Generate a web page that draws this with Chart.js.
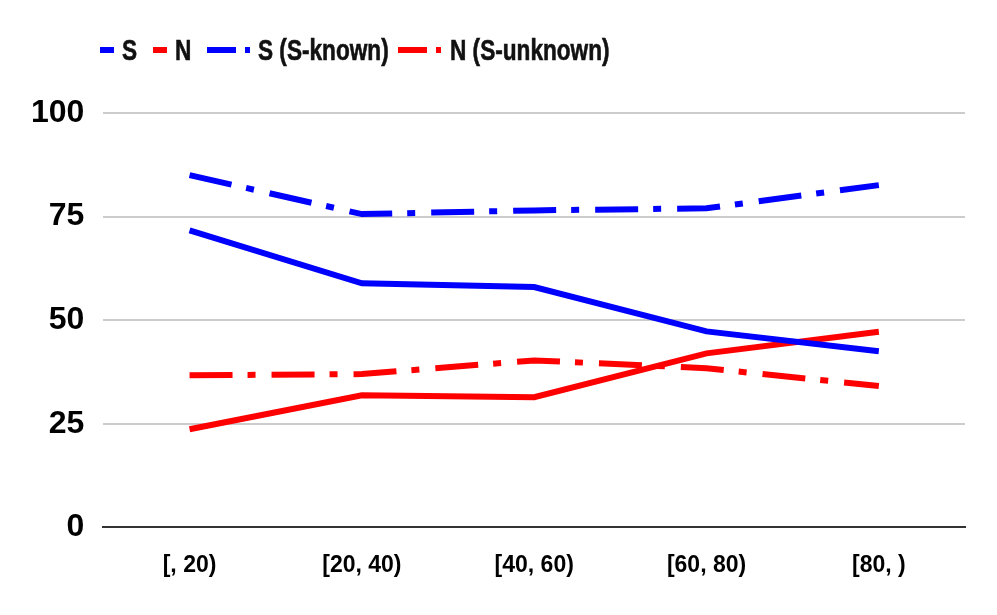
<!DOCTYPE html>
<html>
<head>
<meta charset="utf-8">
<script src="https://cdn.jsdelivr.net/npm/chart.js@4.4.1/dist/chart.umd.min.js"></script>
<style>
  html, body { margin: 0; padding: 0; background: #fff; }
  #wrap { position: relative; width: 997px; height: 615px; }
  #legend { position: absolute; top: 0; left: 0; width: 997px; height: 90px;
            font-family: "Liberation Sans", Arial, sans-serif; font-weight: 700;
            font-size: 29px; color: #111; }
  .mk { position: absolute; top: 47px; height: 6px; }
  .txt { position: absolute; top: 33px; line-height: 34px; white-space: nowrap;
         -webkit-text-stroke: 0.6px #111;
         transform: scaleX(0.78); transform-origin: 0 50%; }
</style>
</head>
<body>
<div id="wrap">
  <div id="legend"></div>
  <canvas id="c" width="997" height="615"></canvas>
</div>
<script>
// data
var categories = ['[, 20)', '[20, 40)', '[40, 60)', '[60, 80)', '[80, )'];
var sValues = [71.7, 58.9, 58.0, 47.3, 42.5];
var nValues = [23.7, 31.9, 31.4, 42.0, 47.2];
var sKnownValues = [85.0, 75.6, 76.5, 77.0, 82.6];
var nUnknownValues = [36.7, 37.0, 40.3, 38.4, 34.1];
var yTicks = [0, 25, 50, 75, 100];

var BLUE = '#0000ff', RED = '#ff0000';
var dashDot = [43, 15, 8, 16];
var font = '"Liberation Sans", Arial, sans-serif';

var series = [
    {label: 'S', data: sValues, color: BLUE, dash: [], legendX: 100, legendMk: 'short', textX: 122},
    {label: 'N', data: nValues, color: RED, dash: [], legendX: 153, legendMk: 'short', textX: 175},
    {label: 'S (S-known)', data: sKnownValues, color: BLUE, dash: dashDot, legendX: 207, legendMk: 'dashdot', textX: 258},
    {label: 'N (S-unknown)', data: nUnknownValues, color: RED, dash: dashDot, legendX: 398, legendMk: 'dashdot', textX: 450}
];

// legend drawn in html so the marker widths can differ per item
var legendEl = document.getElementById('legend');
series.forEach(function(s){
    var html = '';
    if (s.legendMk == 'short') {
        html += '<span class="mk" style="left:' + s.legendX + 'px;width:14px;background:' + s.color + '"></span>';
    } else {
        html += '<span class="mk" style="left:' + s.legendX + 'px;width:29px;background:' + s.color + '"></span>';
        html += '<span class="mk" style="left:' + (s.legendX + 38) + 'px;width:5px;background:' + s.color + '"></span>';
    }
    html += '<span class="txt" style="left:' + s.textX + 'px">' + s.label + '</span>';
    legendEl.insertAdjacentHTML('beforeend', html);
});

var chart = new Chart(document.getElementById('c'), {
    type: 'line',
    data: {
        labels: categories,
        datasets: series.map(function(s){
            return {
                label: s.label,
                data: s.data,
                borderColor: s.color,
                backgroundColor: s.color,
                borderWidth: 6,
                borderDash: s.dash,
                borderCapStyle: 'butt',
                borderJoinStyle: 'miter',
                pointRadius: 0,
                tension: 0
            };
        })
    },
    options: {
        responsive: false,
        animation: false,
        layout: {padding: {top: 113, right: 32, bottom: 12, left: 12}},
        plugins: {legend: {display: false}, tooltip: {enabled: false}},
        scales: {
            x: {
                offset: true,
                grid: {display: false, drawTicks: false},
                border: {display: true, color: '#333', width: 2},
                ticks: {color: '#000', font: {family: font, size: 23, weight: 'bold'}, padding: 24, maxRotation: 0}
            },
            y: {
                min: 0, max: 100,
                afterBuildTicks: function(axis){ axis.ticks = yTicks.map(function(v){ return {value: v}; }); },
                grid: {color: '#cccccc', lineWidth: 2, drawTicks: false},
                border: {display: false},
                ticks: {color: '#000', font: {family: font, size: 32, weight: 'bold'}, padding: 19}
            }
        }
    }
});
</script>
</body>
</html>
